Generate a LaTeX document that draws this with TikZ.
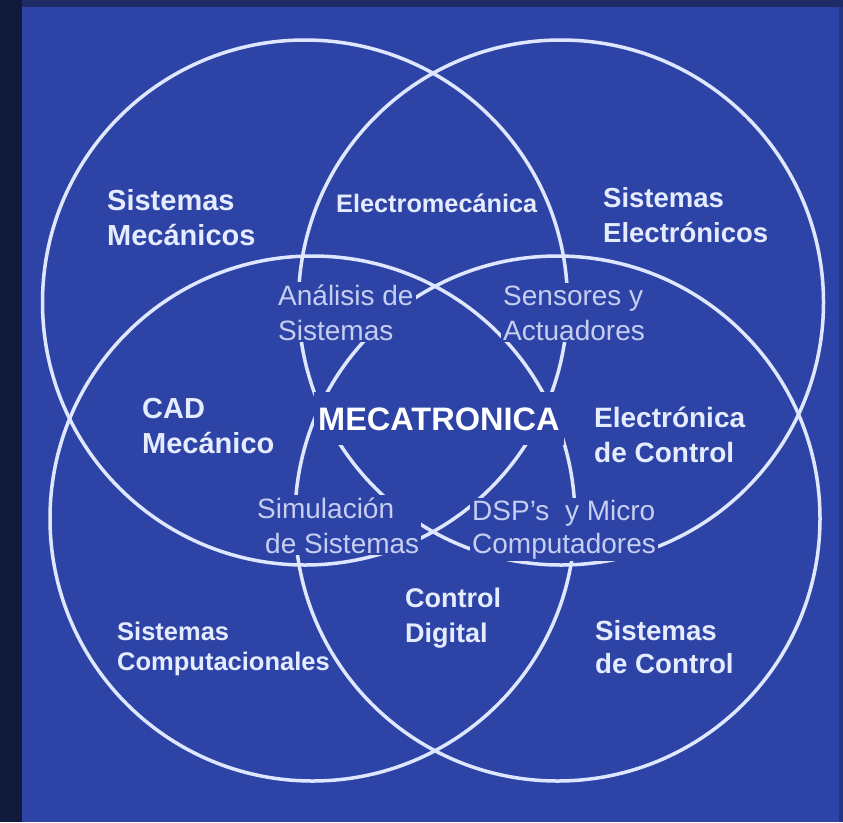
\documentclass[tikz,border=0pt]{standalone}
\usepackage{fontspec}
\setmainfont{Liberation Sans}

\definecolor{slide}{HTML}{2D44A6}
\definecolor{rim}{HTML}{121A3C}
\definecolor{ring}{HTML}{DFE6FF}
\definecolor{ink}{HTML}{E6ECFF}
\definecolor{softink}{HTML}{C6CEF2}
\newcommand{\fsz}[2]{\fontsize{#1pt}{#2pt}\selectfont}

\begin{document}
\begin{tikzpicture}[x=1pt, y=-1pt,
    areatxt/.style={text=ink, inner sep=2pt, align=left, anchor=base west},
    subtxt/.style={text=softink, fill=slide, inner sep=2pt, align=left, anchor=base west, font=\fsz{28}{35}}]
  % slide background
  \fill[slide] (0,0) rectangle (843,822);
  \fill[rim] (0,0) rectangle (22,822);
  \fill[rim!60!slide] (22,0) rectangle (843,7);
  \fill[rim!35!slide] (839,7) rectangle (843,822);
  % the four fields
  \coordinate (mec) at (305,302.5);
  \coordinate (ele) at (561,302.5);
  \coordinate (comp) at (312.5,518.5);
  \coordinate (ctrl) at (557.5,518.5);
  \foreach \c in {mec,ele,comp,ctrl}
    \draw[ring, line width=3.5pt] (\c) circle[radius=262.5pt];
  % outer areas (placed at the last baseline)
  \node[areatxt, font=\bfseries\fsz{29}{35}] (sysmec) at (105,245) {Sistemas\\Mecánicos};
  \node[areatxt, font=\bfseries\fsz{25.3}{30}] (electromec) at (334,212) {Electromecánica};
  \node[areatxt, font=\bfseries\fsz{27.5}{35}] (sysel) at (601,242) {Sistemas\\Electrónicos};
  \node[areatxt, font=\bfseries\fsz{29}{35}] (cad) at (140,453) {CAD\\Mecánico};
  \node[areatxt, font=\bfseries\fsz{28}{35}] (elcontrol) at (592,462) {Electrónica\\de Control};
  \node[areatxt, font=\bfseries\fsz{27}{35}] (ctrldig) at (403,642) {Control\\Digital};
  \node[areatxt, font=\bfseries\fsz{25.5}{30}] (syscomp) at (115,670) {Sistemas\\Computacionales};
  \node[areatxt, font=\bfseries\fsz{27.7}{33}] (sysctrl) at (593,673) {Sistemas\\de Control};
  % overlaps, cut out of the rings
  \node[subtxt] (analisis) at (276,340) {Análisis de\\Sistemas};
  \node[subtxt] (sensores) at (501,340) {Sensores y\\Actuadores};
  \node[subtxt] (simulacion) at (255,553) {Simulación\\\hspace*{8pt}de Sistemas};
  \node[subtxt, font=\fsz{28}{33}] (dsp) at (470,553) {DSP’s\ \ y Micro\\Computadores};
  % centre
  \node[text=white, fill=slide, inner xsep=4pt, inner ysep=15pt, anchor=base west,
        font=\bfseries\fsz{32.5}{38}] (meca) at (314,430) {MECATRONICA};
\end{tikzpicture}
\end{document}
